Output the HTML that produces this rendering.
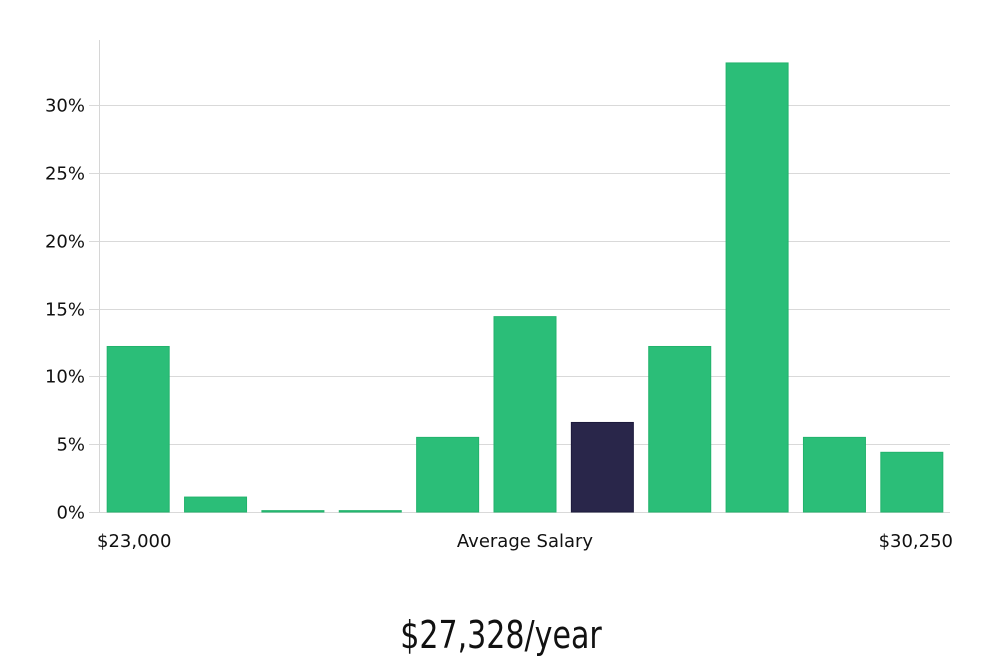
<!DOCTYPE html>
<html><head><meta charset="utf-8"><style>
body{margin:0;background:#fff;width:1000px;height:660px;overflow:hidden}
svg text{font-family:"DejaVu Sans","Liberation Sans",sans-serif}
</style></head><body>
<svg id="chart" width="1000" height="660" viewBox="0 0 1000 660" xmlns="http://www.w3.org/2000/svg">
<g id="grid"></g><g id="bars"></g><g id="labels"></g>
<line x1="99.5" y1="40" x2="99.5" y2="512" stroke="#d6d6d6" stroke-width="1"/>
<text x="97" y="547" font-size="18" fill="#111">$23,000</text>
<text x="525" y="547" font-size="18" fill="#111" text-anchor="middle">Average Salary</text>
<text x="953" y="547" font-size="18" fill="#111" text-anchor="end">$30,250</text>
<text x="501" y="648" font-size="38" fill="#111" text-anchor="middle" style="font-family:'DejaVu Sans Condensed','DejaVu Sans',sans-serif;font-weight:300" transform="translate(501 0) scale(0.88 1) translate(-501 0)">$27,328/year</text>
</svg>
<script>
const values=[12.2,1.1,0.1,0.1,5.5,14.4,6.6,12.2,33.1,5.5,4.4];
const highlight=[0,0,0,0,0,0,1,0,0,0,0];
const yTicks=[0,5,10,15,20,25,30];
const yTickLabels=["0%","5%","10%","15%","20%","25%","30%"];
const NS="http://www.w3.org/2000/svg";
const x0=99,x1=950,y0=512,pxPer=(512-105)/30;
const yScale=v=>y0-v*pxPer;
const step=(x1-x0)/values.length;
const xScale=i=>x0+i*step+(step-63)/2+1;
const grid=document.getElementById('grid'),bars=document.getElementById('bars'),labels=document.getElementById('labels');
yTicks.forEach((t,i)=>{
  const y=Math.round(yScale(t))+0.5;
  const l=document.createElementNS(NS,'line');
  
  
  l.setAttribute('x1',89);l.setAttribute('x2',x1);l.setAttribute('y1',y);l.setAttribute('y2',y);
  l.setAttribute('stroke','#d9d9d9');
  grid.appendChild(l);
  const tx=document.createElementNS(NS,'text');
  
  
  tx.setAttribute('x',85);tx.setAttribute('y',y+6);tx.setAttribute('text-anchor','end');
  tx.setAttribute('font-size','18');tx.setAttribute('fill','#111');
  tx.textContent=yTickLabels[i];
  labels.appendChild(tx);
});
values.forEach((v,i)=>{
  const r=document.createElementNS(NS,'rect');
  
  
  const top=yScale(v);
  r.setAttribute('x',xScale(i));r.setAttribute('y',top);
  r.setAttribute('width',62);r.setAttribute('height',Math.max(1,y0-top));
  r.setAttribute('fill',highlight[i]?'#29264a':'#2bbe78');
  r.setAttribute('stroke',highlight[i]?'#1c1a3c':'#22b36c');
  r.setAttribute('stroke-width','1');
  bars.appendChild(r);
});
</script>
</body></html>
